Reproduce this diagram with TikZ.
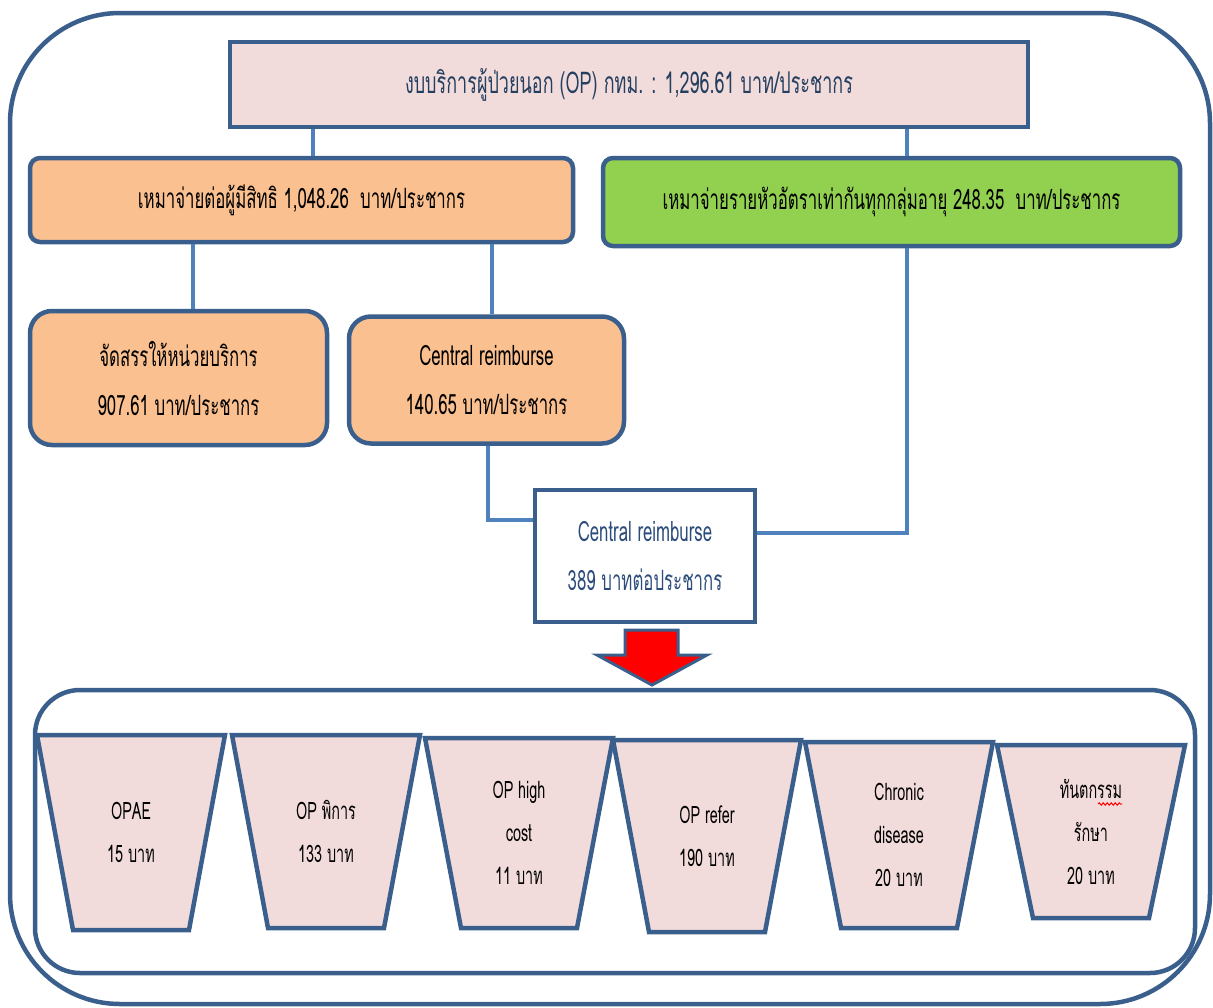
\documentclass[tikz,border=0pt]{standalone}
\usepackage{fontspec}
\setmainfont[Script=Thai,FakeStretch=0.6]{Loma}
\usetikzlibrary{decorations.pathmorphing}

\definecolor{rimblue}{HTML}{3A5F8C}
\definecolor{linkblue}{HTML}{4F81BD}
\definecolor{boxpink}{HTML}{F2DCDB}
\definecolor{boxorange}{HTML}{FAC090}
\definecolor{boxgreen}{HTML}{92D050}
\definecolor{textnavy}{HTML}{243F60}
\definecolor{textblue}{HTML}{2C4C7C}

\begin{document}
\begin{tikzpicture}[x=1pt, y=-1pt,
  rim/.style={draw=rimblue, line width=4.5pt},
  link/.style={draw=linkblue, line width=3.5pt},
  budget/.style={rim, inner sep=0pt, align=center, font=\fontsize{28}{49}\selectfont},
  trapbox/.style={rim, fill=boxpink, line join=miter},
  traptext/.style={align=center, font=\fontsize{24}{43}\selectfont}]
  \useasboundingbox (0,0) rectangle (1213,1007);

  % Outer frames
  \draw[rim, rounded corners=110] (10,13) rectangle (1210,1004);
  \draw[rim, rounded corners=45] (35,690) rectangle (1195,973);

  % Budget boxes
  \node[budget, fill=boxpink, text=textnavy, minimum width=798, minimum height=85,
        font=\fontsize{30}{49}\selectfont] (title) at (629,84.5)
    {งบบริการผู้ป่วยนอก (OP) กทม. : 1,296.61 บาท/ประชากร};
  \node[budget, fill=boxorange, rounded corners=10, minimum width=543, minimum height=84] (perhead) at (301.5,200)
    {เหมาจ่ายต่อผู้มีสิทธิ 1,048.26\ \ บาท/ประชากร};
  \node[budget, fill=boxgreen, rounded corners=10, minimum width=577, minimum height=88] (capita) at (891.5,202)
    {เหมาจ่ายรายหัวอัตราเท่ากันทุกกลุ่มอายุ 248.35\ \ บาท/ประชากร};
  \node[budget, fill=boxorange, rounded corners=22, minimum width=297, minimum height=134] (alloc) at (178.5,378)
    {จัดสรรให้หน่วยบริการ\\907.61 บาท/ประชากร};
  \node[budget, fill=boxorange, rounded corners=22, minimum width=275, minimum height=127] (central) at (486.5,380)
    {Central reimburse\\140.65 บาท/ประชากร};
  \node[budget, fill=white, text=textblue, minimum width=220, minimum height=132] (cr389) at (645,556)
    {Central reimburse\\389 บาทต่อประชากร};

  % Connectors
  \draw[link] (title.south -| 313,0) -- (perhead.north -| 313,0);
  \draw[link] (title.south -| 907,0) -- (capita.north -| 907,0);
  \draw[link] (perhead.south -| 193,0) -- (alloc.north -| 193,0);
  \draw[link] (perhead.south -| 492,0) -- (central.north -| 492,0);
  \draw[link] (central.south -| 488,0) |- (cr389.west |- 0,520);
  \draw[link] (capita.south -| 907,0) |- (cr389.east |- 0,533);

  % Down arrow
  \draw[rim, fill=red, line width=3pt, line join=miter]
    (625,630) -- (678,630) -- (678,655) -- (707,655) -- (652,685) -- (597,655) -- (625,655) -- cycle;

  % Cost items
  \foreach \x/\t/\b/\txt [count=\i] in {
      37/735/930/{OPAE\\15 บาท},
      232/735/928/{OP พิการ\\133 บาท},
      425/738/928/{OP high\\cost\\11 บาท},
      613/740/932/{OP refer\\190 บาท},
      805/742/928/{Chronic\\disease\\20 บาท},
      997/745/918/{ทันตกรรม\\รักษา\\20 บาท}} {
    \draw[trapbox] (\x,\t) -- (\x+188,\t) -- (\x+152,\b) -- (\x+36,\b) -- cycle;
    \node[traptext] (cost\i) at (\x+94,{(\t+\b)/2}) {\txt};
  }
  \draw[red, line width=1pt, decorate, decoration={snake, amplitude=1.2pt, segment length=4pt}]
    (1098,804) -- (1122,804);
\end{tikzpicture}
\end{document}
